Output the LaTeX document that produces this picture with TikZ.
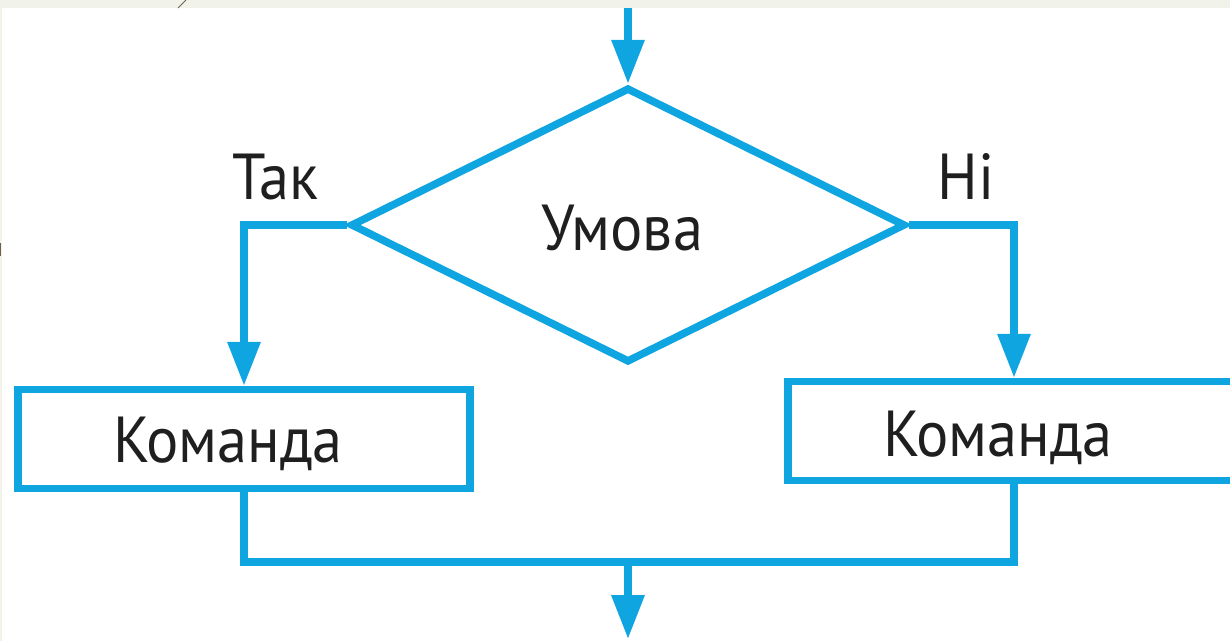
\documentclass[tikz,border=0pt]{standalone}
\usepackage{fontspec}
\setmainfont[FakeStretch=0.93]{PT Sans}
\usetikzlibrary{arrows.meta,shapes.geometric}
\definecolor{flow}{RGB}{14,165,225}
\definecolor{framefill}{RGB}{241,243,234}
\definecolor{scratch}{RGB}{110,95,75}
\tikzset{
  flowline/.style={draw=flow, line width=4.3pt},
  flowarrow/.style={flowline, -{Triangle[length=25pt,width=18pt]}},
  cond/.style={diamond, flowline, inner sep=0pt, minimum width=11.1cm, minimum height=5.5cm},
  cmd/.style={rectangle, flowline, minimum width=9.04cm, minimum height=1.98cm, inner sep=0pt},
  lbl/.style={font=\fontsize{37}{40}\selectfont, text=black!88, inner sep=0pt, anchor=base}
}
\begin{document}
\begin{tikzpicture}[x=0.02cm, y=-0.02cm]
  \useasboundingbox (0,0) rectangle (1230,641);
  \clip (0,0) rectangle (1230,641);
  % page frame strip along the top and left edges
  \fill[framefill] (0,0) rectangle (1230,8);
  \fill[framefill] (0,0) rectangle (2,641);
  \draw[draw=scratch, line width=0.6pt] (178,8) -- (186,0);
  \fill[scratch] (0,243) rectangle (1.5,256);

  % entry and exit points
  \coordinate (in) at (628,8);
  \coordinate (join) at (628,562);
  \coordinate (out) at (628,639);

  % condition and the two commands
  \node[cond] (d) at (628,225) {};
  \node[lbl] (dt) at (622,251) {Умова};
  \node[cmd] (lbox) at (244,439) {};
  \node[lbl] (lt) at (228,462) {Команда};
  \node[cmd] (rbox) at (1014,431) {};
  \node[lbl] (rt) at (998,457) {Команда};

  % branch labels
  \node[lbl] (yes) at (275,200) {Так};
  \node[lbl] (no) at (966,200) {Ні};

  % connectors
  \draw[flowarrow] (in) -- (d.north);
  \draw[flowarrow] (d.west) -| (lbox.north);
  \draw[flowarrow] (d.east) -| (rbox.north);
  \draw[flowline] (lbox.south) |- (join) -| (rbox.south);
  \draw[flowarrow] (join) -- (out);
\end{tikzpicture}
\end{document}
